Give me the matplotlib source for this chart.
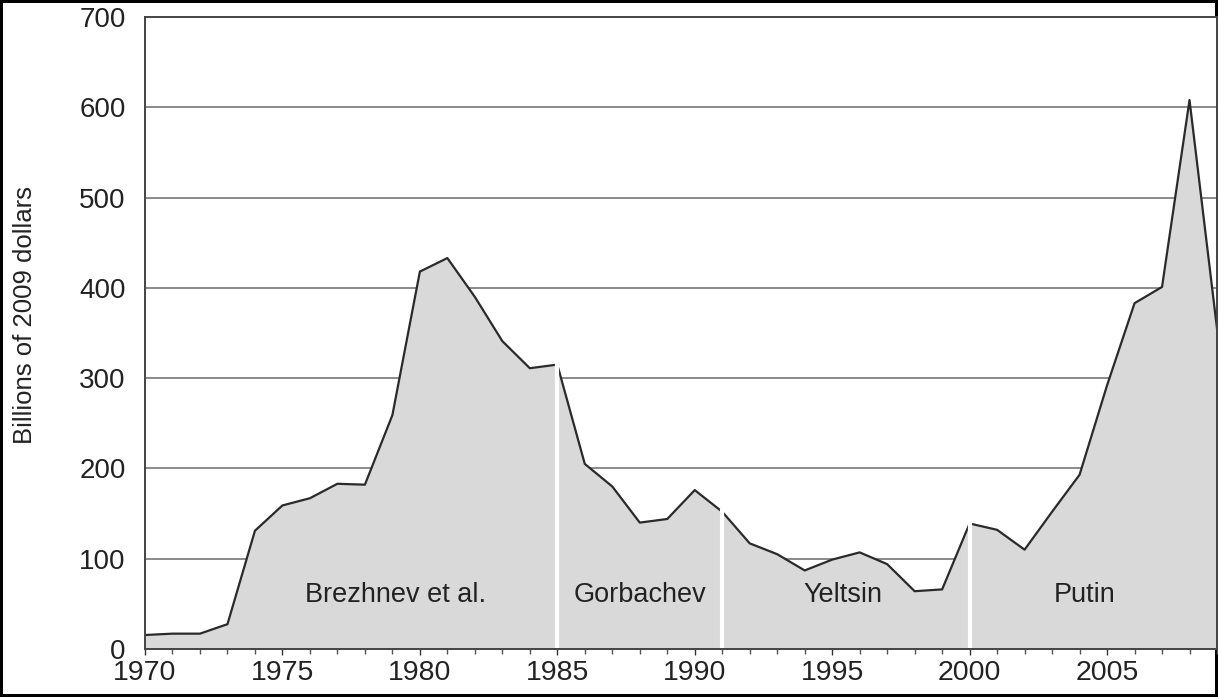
import numpy as np
import matplotlib
matplotlib.use("Agg")
import matplotlib.pyplot as plt

plt.rcParams['font.family'] = ['Liberation Sans', 'DejaVu Sans']

years = list(range(1970, 2010))
values = [15.5, 17, 17, 27.5, 131, 159, 167, 183, 182, 259,
          418, 433, 390, 341, 311, 315, 205, 180, 140, 144,
          176, 152, 117, 105, 87, 99, 107, 94, 64, 66,
          139, 132, 110, 152, 193, 292, 383, 401, 608, 355]
dividers = [1985, 1991, 2000]
eras = ["Brezhnev et al.", "Gorbachev", "Yeltsin", "Putin"]
era_x = [1979.1, 1988.0, 1995.4, 2004.2]
era_y = 60
yticks = [0, 100, 200, 300, 400, 500, 600, 700]
xticks = [1970, 1975, 1980, 1985, 1990, 1995, 2000, 2005]

fig = plt.figure(figsize=(12.18, 6.97), dpi=100, linewidth=3, edgecolor='black')
ax = fig.add_axes([145/1218, 1 - 649/697, 1 - 145/1218 - 1/1218, (649 - 17)/697])

for y in yticks[1:-1]:
    ax.axhline(y, color='#8a8a8a', lw=1.4, zorder=1)

ax.fill_between(years, values, 0, color='#d9d9d9', zorder=2, linewidth=0)
ax.plot(years, values, color='#2a2a2a', lw=1.6, zorder=3)

for d in dividers:
    top = np.interp(d, years, values) + 3
    ax.vlines(d, 0, top, color='white', lw=3, zorder=4)

for name, x in zip(eras, era_x):
    ax.text(x, era_y, name, ha='center', va='center', fontsize=19.5,
            color='#222222', zorder=5)

ax.set_xlim(1970, 2009)
ax.set_ylim(0, 700)
ax.set_xticks(xticks)
ax.set_xticks(years, minor=True)
ax.set_yticks(yticks)
ax.tick_params(axis='x', which='major', direction='out', length=4, width=1,
               labelsize=20.5, pad=4, colors='#333333')
ax.tick_params(axis='x', which='minor', direction='out', length=3.5, width=1,
               colors='#555555')
ax.tick_params(axis='y', length=0, labelsize=20, pad=14, colors='#333333')
for lab in ax.get_xticklabels() + ax.get_yticklabels():
    lab.set_color('#222222')
for s in ax.spines.values():
    s.set_color('#444444')
    s.set_linewidth(1.4)
    s.set_zorder(6)

fig.text(25/1218, 1 - 315/697, "Billions of 2009 dollars", rotation=90,
         ha='center', va='center', fontsize=18.5, color='#222222')

fig.savefig("out.png", dpi=100, edgecolor='black')
